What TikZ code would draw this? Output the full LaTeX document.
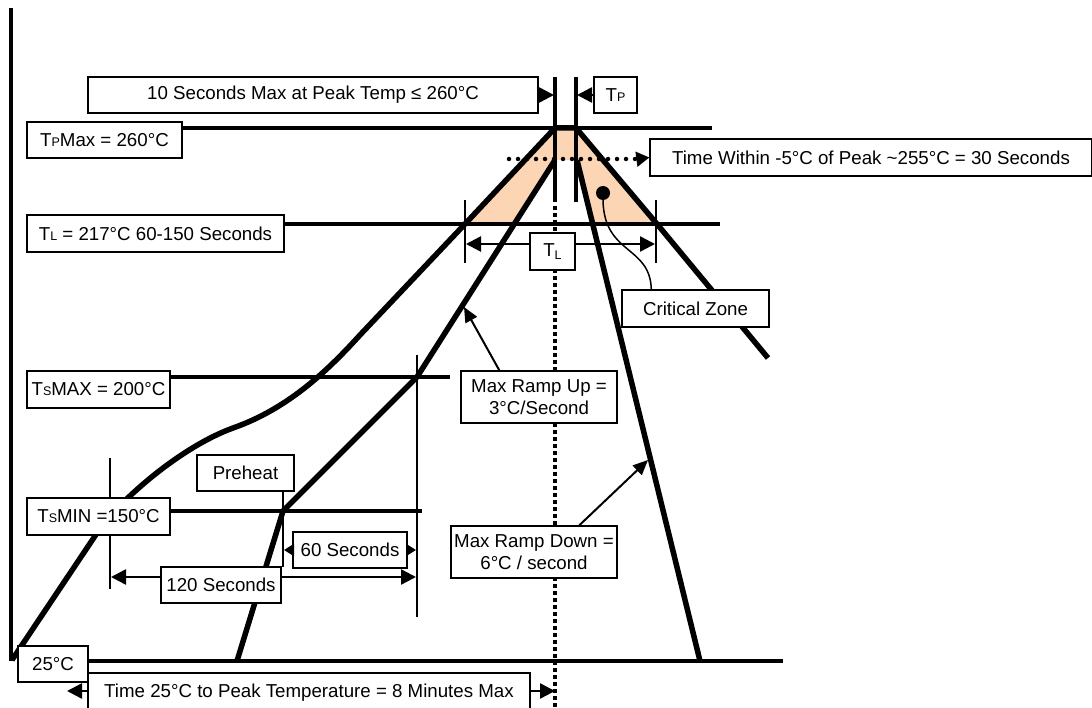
\documentclass[tikz,border=0pt]{standalone}
\usepackage{fontspec}
\setmainfont{Liberation Sans}
\usetikzlibrary{arrows.meta}
\definecolor{peach}{RGB}{252,213,180}
\newcommand\smallsub[1]{{\fontsize{12.5}{12.5}\selectfont #1}}
\tikzset{
  box/.style={draw, line width=1.4pt, fill=white, inner sep=0pt, font=\fontsize{18.7}{22}\selectfont, align=center},
  refline/.style={line width=4.5pt},
  prof/.style={line width=5.5pt, line join=round},
  dimline/.style={line width=2.5pt, -{Triangle[length=15pt,width=15pt]}},
  smalldim/.style={line width=2pt, -{Triangle[length=10pt,width=12pt]}},
  tickline/.style={line width=2pt},
  ptr/.style={line width=2pt, -{Triangle[length=15pt,width=13pt]}},
}
\begin{document}
\begin{tikzpicture}[x=1pt,y=-1pt]
\useasboundingbox (0,0) rectangle (1092,708);
\clip (0,0) rectangle (1092,708);
\fill[white] (0,0) rectangle (1092,708);

% key points
\coordinate (pkL) at (555,128);
\coordinate (pkR) at (576,128);
\coordinate (tlL) at (465,224);
\coordinate (tlR) at (657,224);
\coordinate (smx) at (417,377);
\coordinate (smn) at (283,511);
\coordinate (inL) at (555,160);
\coordinate (inR) at (577,160);

% critical zone fill
\fill[peach] (tlL) -- (pkL) -- (pkR) -- (tlR) -- (593,224) -- (inR) -- (inL) -- (514,224) -- cycle;

% axis
\draw[line width=4.5pt] (11,8) -- (11,661);

% outer profile
\draw[prof] (12,660) -- (97,533) .. controls (116,504) and (178,448) .. (233,428)
  .. controls (290,408) and (330,368) .. (360,335) -- (tlL) -- (pkL) -- (pkR) -- (tlR) -- (768,358);

% inner profile
\draw[prof] (237,661) -- (smn) -- (smx) -- (inL);
\draw[prof] (inR) -- (700,661);

% top vertical lines
\draw[refline] (555,77) -- (555,202);
\draw[refline] (576,77) -- (576,202);

% dotted lines
\draw[line width=4pt, dash pattern=on 4pt off 3pt] (555,206) -- (555,708);
\draw[line width=4.5pt, line cap=round, dash pattern=on 0pt off 9pt] (509,159) -- (638,159);

% ticks
\draw[tickline] (110,458) -- (110,589);
\draw[tickline] (417,355) -- (417,617);
\draw[tickline] (465,200) -- (465,263);
\draw[tickline] (656,200) -- (656,263);

% boxes
\node[box, minimum width=450pt, minimum height=36pt] (b10) at (313,95) {10 Seconds Max at Peak Temp ≤ 260°C};
\node[box, minimum width=43pt, minimum height=36pt] (bTP) at (615.5,95) {T\smallsub{P}};
\node[box, minimum width=155pt, minimum height=36pt] (bTPmax) at (104.5,140) {T\smallsub{P}Max = 260°C};
\node[box, minimum width=257pt, minimum height=37pt] (bTL217) at (155.5,233.5) {T\smallsub{L} = 217°C 60-150 Seconds};
\node[box, minimum width=442pt, minimum height=37pt] (bWithin) at (871,157.5) {Time Within -5°C of Peak \textasciitilde255°C = 30 Seconds};
\node[box, minimum width=147pt, minimum height=37pt] (bCrit) at (695.5,308.5) {Critical Zone};
\node[box, minimum width=45pt, minimum height=37pt] (bTLs) at (552.5,251.5) {T\raisebox{-3pt}{\smallsub{L}}};
\node[box, minimum width=143pt, minimum height=37pt] (bTsMax) at (98.5,389.5) {T\smallsub{S}MAX = 200°C};
\node[box, minimum width=156pt, minimum height=52pt] (bRampUp) at (539,397) {Max Ramp Up =\\ 3°C/Second};
\node[box, minimum width=97pt, minimum height=36pt] (bPreheat) at (245.5,473) {Preheat};
\node[box, minimum width=143pt, minimum height=37pt] (bTsMin) at (98.5,516.5) {T\smallsub{S}MIN =150°C};
\node[box, minimum width=114pt, minimum height=36pt] (b60) at (350,550) {60 Seconds};
\node[box, minimum width=120pt, minimum height=36pt] (b120) at (221,585) {120 Seconds};
\node[box, minimum width=166pt, minimum height=52pt] (bRampDown) at (534,552) {Max Ramp Down =\\ 6°C / second};
\node[box, minimum width=70pt, minimum height=36pt] (b25) at (53,664) {25°C};
\node[box, minimum width=442pt, minimum height=40pt] (bTime) at (309,693) {\raisebox{3pt}{Time 25°C to Peak Temperature = 8 Minutes Max}};
\node[circle, fill=black, inner sep=0pt, minimum size=14pt] (dot) at (603,193) {};

% reference temperature lines
\draw[refline] (bTPmax.east |- pkL) -- (712,128);
\draw[refline] (bTL217.east |- tlL) -- (720,224);
\draw[refline] (bTsMax.east |- smx) -- (450,377);
\draw[refline] (bTsMin.east |- smn) -- (422,511);
\coordinate (base) at (783,661);
\draw[refline] (b25.east |- base) -- (base);

% preheat leader
\coordinate (ph) at (283,567);
\draw[tickline] (bPreheat.south -| ph) -- (ph);

% dimension arrows
\coordinate (p10) at (554,95);
\coordinate (pTP) at (577,95);
\draw[dimline] (b10.east) -- (p10);
\draw[dimline] (bTP.west) -- (pTP);
\coordinate (tlA) at (466,244);
\coordinate (tlB) at (655,244);
\draw[dimline] (bTLs.west |- tlA) -- (tlA);
\draw[dimline] (bTLs.east |- tlB) -- (tlB);
\coordinate (s60L) at (284,550);
\coordinate (s60R) at (416,550);
\draw[smalldim] (b60.west) -- (s60L);
\draw[smalldim] (b60.east) -- (s60R);
\coordinate (a120L) at (111,577);
\coordinate (a120R) at (416,577);
\draw[dimline] (b120.west |- a120L) -- (a120L);
\draw[dimline] (b120.east |- a120R) -- (a120R);
\coordinate (tL) at (67,691);
\coordinate (tR) at (555,691);
\draw[dimline] (bTime.west |- tL) -- (tL);
\draw[dimline] (bTime.east |- tR) -- (tR);
\coordinate (dotEnd) at (638,159);
\draw[line width=2pt, -{Triangle[length=13pt,width=15pt]}] (dotEnd) -- (bWithin.west);

% pointer arrows
\coordinate (upTip) at (464,307);
\draw[ptr] ([xshift=39pt]bRampUp.north west) -- (upTip);
\coordinate (dnTip) at (648,460);
\draw[ptr] ([xshift=129pt]bRampDown.north west) -- (dnTip);
\draw[line width=1.5pt] (dot.south) .. controls (604,255) and (650,245) .. ([xshift=30pt]bCrit.north west);
\end{tikzpicture}
\end{document}
